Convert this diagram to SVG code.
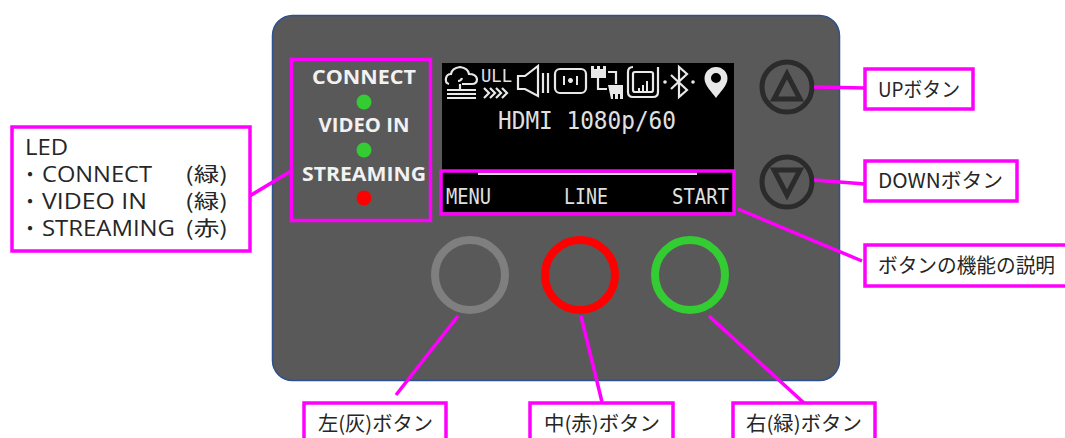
<svg xmlns="http://www.w3.org/2000/svg" width="1065" height="438" viewBox="0 0 1065 438">
<style>
.box{fill:#fff;stroke:#ff00ff;stroke-width:3.500}
.frame{fill:none;stroke:#ff00ff;stroke-width:3.500}
.lab{font-family:"Noto Sans CJK JP","Noto Sans",sans-serif;font-size:20px;fill:#262626}
.lat{font-family:"Open Sans","Noto Sans",sans-serif;font-size:21px;fill:#262626}
.led{font-family:"Open Sans","Liberation Sans",sans-serif;font-weight:700;font-size:19px;fill:#f2f2f2;text-anchor:middle}
.mono{font-family:"DejaVu Sans Mono","Liberation Mono",monospace;fill:#e0e0e0}
.ic{fill:none;stroke:#e8e8e8;stroke-width:2.200}
.ics{fill:#e8e8e8;stroke:none}
.btn{fill:none;stroke-width:8}
.nav{fill:none;stroke:#2b2b2b;stroke-width:5}
#connectors line{stroke:#ff00ff;stroke-width:3.500}
</style>
<rect width="1065" height="438" fill="#fff"/>
<g id="panel"><rect x="272.500" y="15.500" width="567" height="365" rx="20" fill="#595959" stroke="#2f528f" stroke-width="1.500"/></g>
<g id="screen">
<rect x="442" y="63" width="292" height="149" fill="#000"/>
<g id="status-icons">
<path class="ic" d="M449 84 q-4-1-3-6 q1-4 5-4 q1-6 9-7 q8 1 9 7 q7 0 8 5 q0 5-5 5 h-10 M458 81 q3 0 4-3"/>
<path class="ic" d="M460 84v6M447 90h29M447 94h29M447 98h29"/>
<text x="481" y="82" class="mono" font-size="18" textLength="31" lengthAdjust="spacingAndGlyphs">ULL</text>
<path class="ic" stroke-width="1.600" d="M484 88l5 5-5 5M490 88l5 5-5 5M496 88l5 5-5 5M502 88l5 5-5 5"/>
<path class="ic" stroke-width="2.600" d="M518 76v13h7l13 7V66l-13 10h-7zM543 73v20M548 73v20"/>
<rect class="ic" x="555" y="69" width="31" height="24" rx="5" stroke-width="2.600"/>
<path class="ics" d="M563 76h2v9h-2zM576 76h2v9h-2zM570.500 78a2.500 2.500 0 1 0 .01 0z"/>
<path class="ics" d="M591 66h3v3h3v-3h3v3h3v-3h3v12h-15z"/>
<path class="ic" stroke-width="2.600" d="M608 72h8v12M598 78v11h9"/>
<path class="ics" d="M608 85h15v14h-3v-5h-2v5h-3v-5h-2v5h-2z"/>
<path class="ic" stroke-width="2.600" d="M633 67q-5 0-5 5v20q0 5 5 5h20q5 0 5-5V67"/>
<rect class="ic" x="633" y="72" width="20" height="20" rx="2" stroke-width="2.400"/>
<path class="ics" d="M638 88h2v3h-2zM642 85h2v6h-2zM646 81h2v10h-2z"/>
<path class="ic" stroke-width="2.400" d="M671 75l16 15-8 7V67l8 7-16 15"/>
<circle class="ics" cx="665" cy="82" r="1.800"/><circle class="ics" cx="693" cy="82" r="1.800"/>
<path class="ics" fill-rule="evenodd" d="M716 67a11.500 11.500 0 0 1 11.500 11.500c0 7-7 13-11.500 19.500c-4.500-6.500-11.500-12.500-11.500-19.500A11.500 11.500 0 0 1 716 67zM716 73a5 5 0 1 0 0 10a5 5 0 0 0 0-10z"/>
</g>
<text x="498" y="129" class="mono" font-size="25" textLength="178" lengthAdjust="spacingAndGlyphs">HDMI 1080p/60</text>
<rect x="478" y="172.500" width="219" height="2.500" fill="#d9d9d9"/>
<text x="446" y="204" class="mono" font-size="21" textLength="45" lengthAdjust="spacingAndGlyphs">MENU</text>
<text x="564" y="204" class="mono" font-size="21" textLength="44" lengthAdjust="spacingAndGlyphs">LINE</text>
<text x="672" y="204" class="mono" font-size="21" textLength="57" lengthAdjust="spacingAndGlyphs">START</text>
</g>
<g id="led-indicators">
<text x="364" y="84" class="led" textLength="104" lengthAdjust="spacingAndGlyphs">CONNECT</text>
<circle cx="364" cy="102" r="7.500" fill="#33cc33"/>
<text x="364" y="132" class="led" textLength="91" lengthAdjust="spacingAndGlyphs">VIDEO IN</text>
<circle cx="364" cy="150" r="7.500" fill="#33cc33"/>
<text x="364" y="181" class="led" textLength="124" lengthAdjust="spacingAndGlyphs">STREAMING</text>
<circle cx="364" cy="198" r="7.500" fill="#ff0000"/>
</g>
<g id="btn-up"><circle class="nav" cx="787" cy="87" r="25"/><path class="nav" d="M787 74l-13 25h26z"/></g>
<g id="btn-down"><circle class="nav" cx="787" cy="182" r="25"/><path class="nav" d="M787 195l-13-25h26z"/></g>
<g id="btn-left"><circle class="btn" cx="470" cy="275" r="35" stroke="#7f7f7f"/></g>
<g id="btn-center"><circle class="btn" cx="580" cy="275" r="35" stroke="#ff0000"/></g>
<g id="btn-right"><circle class="btn" cx="690" cy="275" r="35" stroke="#33cc33"/></g>
<g id="connectors">
<line x1="248" y1="197" x2="291" y2="171"/>
<line x1="814" y1="87" x2="865" y2="88"/>
<line x1="814" y1="180" x2="865" y2="184"/>
<line x1="738" y1="209" x2="862" y2="261"/>
<line x1="458" y1="316" x2="396" y2="395"/>
<line x1="581" y1="316" x2="602" y2="402"/>
<line x1="709" y1="316" x2="804" y2="403"/>
</g>
<g id="led-frame"><rect class="frame" x="291.500" y="59.500" width="139" height="161"/></g>
<g id="screen-frame"><rect class="frame" x="441" y="171" width="293" height="43"/></g>
<g id="label-led">
<rect class="box" x="12" y="127" width="238" height="124"/>
<text x="25" y="155" class="lat" textLength="43" lengthAdjust="spacingAndGlyphs">LED</text>
<text x="20" y="182" class="lab">・</text><text x="42" y="182" class="lat" textLength="110" lengthAdjust="spacingAndGlyphs">CONNECT</text><text x="185" y="182" class="lab" textLength="43" lengthAdjust="spacingAndGlyphs">(緑)</text>
<text x="20" y="209" class="lab">・</text><text x="42" y="209" class="lat" textLength="105" lengthAdjust="spacingAndGlyphs">VIDEO IN</text><text x="185" y="209" class="lab" textLength="43" lengthAdjust="spacingAndGlyphs">(緑)</text>
<text x="20" y="236" class="lab">・</text><text x="42" y="236" class="lat" textLength="133" lengthAdjust="spacingAndGlyphs">STREAMING</text><text x="185" y="236" class="lab" textLength="43" lengthAdjust="spacingAndGlyphs">(赤)</text>
</g>
<g id="label-up"><rect class="box" x="865" y="69" width="108" height="40"/><text x="878" y="97" class="lab" textLength="82" lengthAdjust="spacingAndGlyphs">UPボタン</text></g>
<g id="label-down"><rect class="box" x="865" y="161" width="152" height="40"/><text x="878" y="188" class="lab" textLength="125" lengthAdjust="spacingAndGlyphs">DOWNボタン</text></g>
<g id="label-func"><rect class="box" x="865" y="245" width="210" height="41"/><text x="878" y="273" class="lab" textLength="177" lengthAdjust="spacingAndGlyphs">ボタンの機能の説明</text></g>
<g id="label-left"><rect class="box" x="304" y="403" width="142" height="50"/><text x="318" y="431" class="lab" textLength="115" lengthAdjust="spacingAndGlyphs">左(灰)ボタン</text></g>
<g id="label-center"><rect class="box" x="530" y="403" width="143" height="50"/><text x="544" y="431" class="lab" textLength="116" lengthAdjust="spacingAndGlyphs">中(赤)ボタン</text></g>
<g id="label-right"><rect class="box" x="733" y="403" width="142" height="50"/><text x="746" y="431" class="lab" textLength="116" lengthAdjust="spacingAndGlyphs">右(緑)ボタン</text></g>
</svg>
